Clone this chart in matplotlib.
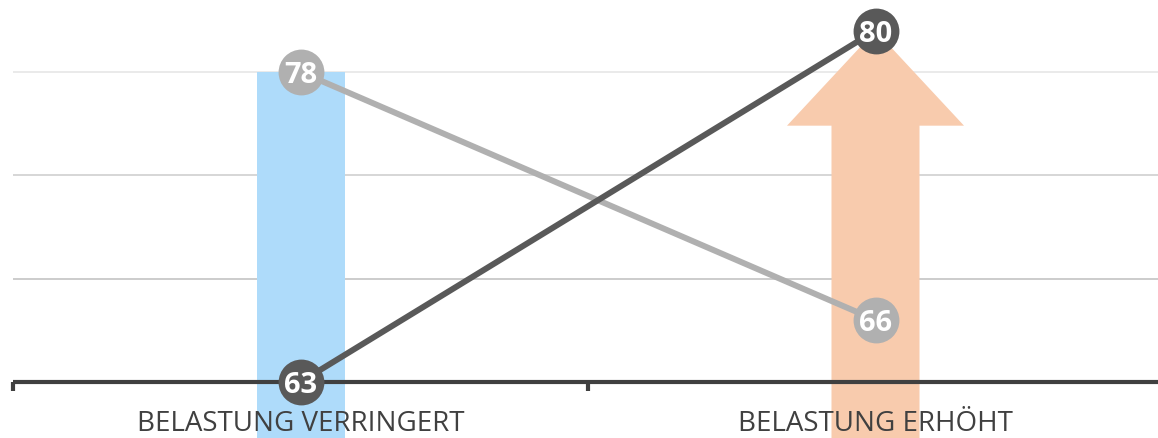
import matplotlib
matplotlib.use("Agg")
import matplotlib.pyplot as plt
from matplotlib.patches import FancyArrow

categories = ["BELASTUNG VERRINGERT", "BELASTUNG ERHÖHT"]
dark_series = [63, 80]
light_series = [78, 66]
bar_value = 78          # blue column at the first category
arrow_value = 80        # orange arrow tip at the second category
arrow_head_base = 75.4  # where the arrow head widens
gridlines = [68, 73, 78]
grid_colors = ["#c4c4c4", "#cfcfcf", "#e6e6e6"]

W, H = 1158, 438
fig = plt.figure(figsize=(W / 100, H / 100), dpi=100)
ax = fig.add_axes([13 / W, 0, 1150 / W, 1])

y_axis = 63
ymin, ymax = 60.29, 81.48
ax.set_xlim(0, 2)
ax.set_ylim(ymin, ymax)

x = [0.5, 1.5]
width = 88 / 575

for g, c in zip(gridlines, grid_colors):
    ax.axhline(g, color=c, lw=1.2, zorder=0)

# blue column
ax.bar(x[0], bar_value - (ymin - 2), bottom=ymin - 2, width=width,
       color="#aedbfa", zorder=1)

# orange arrow
head_w = 177 / 575
head_len = arrow_value - arrow_head_base
arr = FancyArrow(x[1], ymin - 2, 0, arrow_value - (ymin - 2), width=width,
                 head_width=head_w, head_length=head_len,
                 length_includes_head=True, color="#f8cbad", lw=0, zorder=1)
ax.add_patch(arr)

# axis line
ax.axhline(y_axis, color="#404040", lw=3, zorder=2)
for tx in [0, 1, 2]:
    ax.plot([tx, tx], [y_axis, y_axis - 0.42], color="#404040", lw=3,
            solid_capstyle="butt", zorder=2, clip_on=False)

for series, col in [(light_series, "#b0b0b0"), (dark_series, "#595959")]:
    ax.plot(x, series, color=col, lw=4.3, zorder=3, solid_capstyle="butt")
    ax.plot(x, series, "o", ms=33, color=col, mec="white", mew=0, zorder=4,
            clip_on=False)
    for xi, v in zip(x, series):
        ax.text(xi, v, f"{v}", color="white", fontsize=21, fontweight="bold",
                family="Open Sans", ha="center", va="center_baseline", zorder=5)

for xi, lab in zip(x, categories):
    ax.text(xi, 60.95, lab, color="#404040", fontsize=20, family="Open Sans",
            ha="center", va="center", zorder=5)

ax.axis("off")
fig.savefig("out.png", dpi=100)
